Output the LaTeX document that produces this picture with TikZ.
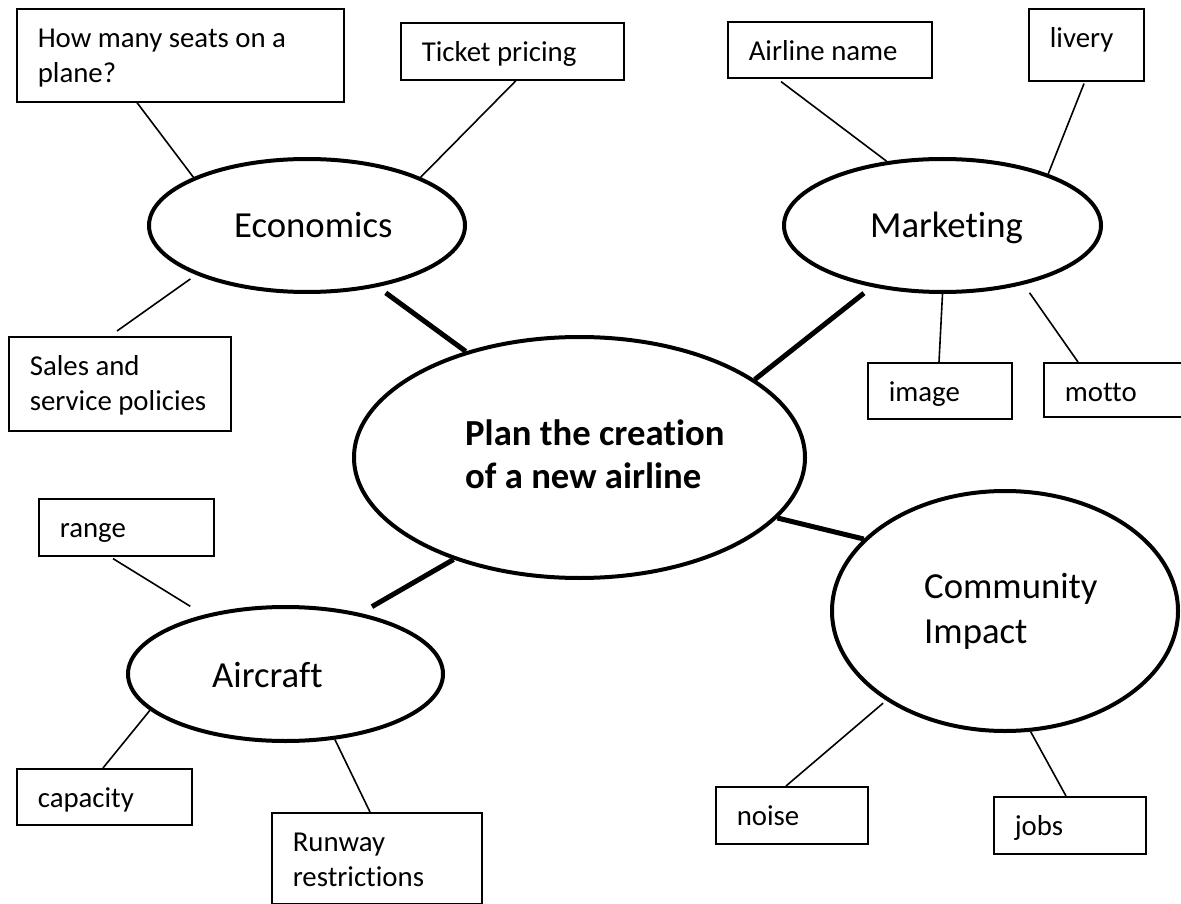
\documentclass[tikz,border=0pt]{standalone}
\usepackage{fontspec}
\setmainfont[Ligatures=NoCommon]{Carlito}
\usepackage{tikz}
\usetikzlibrary{shapes.geometric}

\begin{document}
\begin{tikzpicture}[x=1pt, y=-1pt,
				topic/.style={ellipse, draw, line width=4pt, inner sep=0pt},
				leaf/.style={rectangle, draw, line width=1.6pt, anchor=north west, align=flush left, inner xsep=21pt, inner ysep=0pt, text height=39pt, font=\fontsize{28.8}{35.1}\selectfont},
				tag/.style={anchor=base west, align=flush left, inner sep=0pt, font=\fontsize{36.7}{44.8}\selectfont},
				link/.style={line width=5pt},
				twig/.style={line width=1.6pt},
				]
				\path[use as bounding box, fill=white] (0,0) rectangle (1181,904);

				%Topics
				\node[topic, minimum width=451pt, minimum height=241pt] (hub) at (579.5,457.5) {};
				\node[topic, minimum width=316pt, minimum height=133pt] (econ) at (307,225.5) {};
				\node[topic, minimum width=317pt, minimum height=133pt] (mkt) at (942.5,225.5) {};
				\node[topic, minimum width=315pt, minimum height=134pt] (craft) at (285.5,674) {};
				\node[topic, minimum width=346pt, minimum height=240pt] (impact) at (1005,611) {};

				% base of a two-line tag sits on its last line
				\node[tag, font=\fontsize{36.7}{43}\selectfont\bfseries] (hubtext) at ([xshift=-114.5pt, yshift=-30.5pt]hub.center) {Plan the creation\\of a new airline};
				\node[tag] (econtext) at ([xshift=-73pt, yshift=-12.5pt]econ.center) {Economics};
				\node[tag] (mkttext) at ([xshift=-72.5pt, yshift=-12.5pt]mkt.center) {Marketing};
				\node[tag] (crafttext) at ([xshift=-73.5pt, yshift=-13pt]craft.center) {Aircraft};
				\node[tag] (impacttext) at ([xshift=-81pt, yshift=-32pt]impact.center) {Community\\Impact};

				%Boxes
				\node[leaf, text width=285pt, text depth=54pt] (seats) at (16,8) {How~many~seats~on~a\\plane?};
				\node[leaf, text width=181pt, text depth=18pt] (ticket) at (400,22) {Ticket~pricing};
				\node[leaf, text width=180pt, text depth=55pt] (sales) at (8,336) {Sales~and\\service~policies};
				\node[leaf, text width=162pt, text depth=17pt] (airline) at (727,21) {Airline~name};
				\node[leaf, text width=73pt, text depth=33pt] (livery) at (1028,8) {livery};
				\node[leaf, text width=102pt, text depth=17pt] (image) at (867,362) {image};
				\node[leaf, text width=108pt, text depth=15pt] (motto) at (1043,362) {motto};
				\node[leaf, text width=133pt, text depth=18pt] (range) at (38,498) {range};
				\node[leaf, text width=133pt, text depth=17pt] (capacity) at (16,768) {capacity};
				\node[leaf, text width=168pt, text depth=52pt] (runway) at (271,812) {Runway\\restrictions};
				\node[leaf, text width=110pt, text depth=18pt] (noise) at (715,786) {noise};
				\node[leaf, text width=110pt, text depth=18pt] (jobs) at (993,796) {jobs};

				%Lines
				\draw[link, shorten <=10pt] (econ.-41.8) -- (hub.137);
				\draw[link, shorten >=10pt] (hub.24.5) -- (mkt.221);
				\draw[link] (hub.-17) -- (impact.153);
				\draw[link, shorten >=13pt] (hub.219.6) -- (craft.39);

				\draw[twig] ([xshift=121pt]seats.south west) -- (econ.157.5);
				\draw[twig] ([xshift=116pt]ticket.south west) -- (econ.23.5);
				\draw[twig, shorten <=7pt] (econ.204) -- ([xshift=109pt, yshift=5pt]sales.north west);
				\draw[twig] ([xshift=54pt, yshift=-3pt]airline.south west) -- (mkt.131);
				\draw[twig] ([xshift=56pt, yshift=-2pt]livery.south west) -- (mkt.26);
				\draw[twig] (mkt.south) -- ([xshift=72pt]image.north west);
				\draw[twig, shorten <=10pt] (mkt.-36) -- ([xshift=35pt]motto.north west);
				\draw[twig, shorten >=16pt] ([xshift=75pt, yshift=-2pt]range.south west) -- (craft.144);
				\draw[twig] (craft.195) -- ([xshift=87pt]capacity.north west);
				\draw[twig] (craft.-53) -- ([xshift=99pt]runway.north west);
				\draw[twig, shorten <=4pt] (impact.217) -- ([xshift=71pt]noise.north west);
				\draw[twig] (impact.-78.5) -- ([xshift=73pt]jobs.north west);

\end{tikzpicture}
\end{document}
